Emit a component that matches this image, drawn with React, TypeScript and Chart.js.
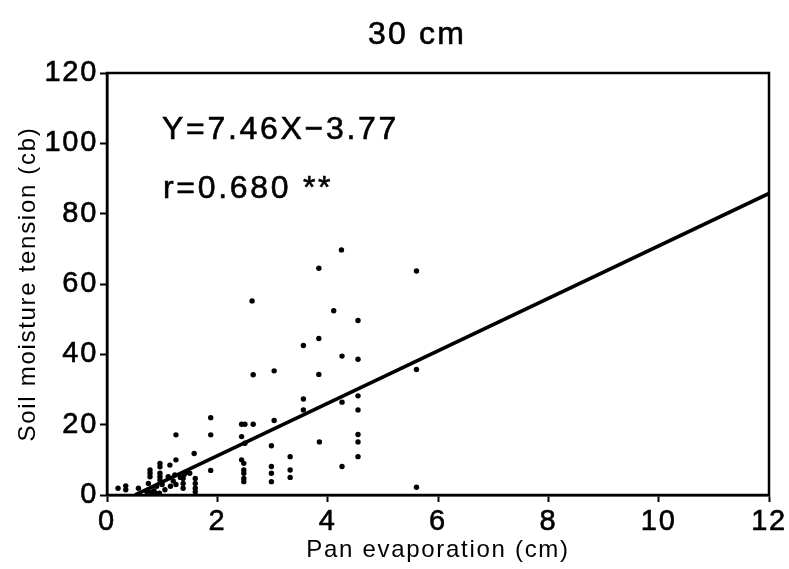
import React, { useEffect, useRef } from "react";
import { Chart, registerables } from "chart.js";

Chart.register(...registerables);

const chartTitle = "30 cm";
const xAxisTitle = "Pan evaporation (cm)";
const yAxisTitle = "Soil moisture tension (cb)";
const equationText = "Y=7.46X\u22123.77";
const corrText = "r=0.680 **";

const xTicks = [0, 2, 4, 6, 8, 10, 12];
const yTicks = [0, 20, 40, 60, 80, 100, 120];

// observed points
const obsX = [
  4.25, 3.84, 5.61, 2.63, 4.11, 4.55, 3.56, 3.84, 4.26, 4.55,
  2.65, 3.03, 3.84, 5.61, 3.56, 3.56, 4.26, 4.55, 4.55, 3.32,
  3.32, 3.32, 3.85, 4.55, 4.55, 4.55, 4.26, 5.61,
  2.44, 2.5, 2.65, 3.03, 2.44, 2.5, 2.98, 2.44, 2.48, 2.48,
  2.48, 2.48, 2.48, 2.98, 2.98, 2.98,
  1.88, 1.25, 1.88, 1.58, 1.25, 0.96, 0.96, 0.78, 0.78, 0.78,
  0.96, 0.96, 0.96, 1.11, 1.23, 1.33, 1.4, 1.45, 1.5, 1.14,
  1.88, 1.38, 1.38, 1.38, 1.6, 1.6, 1.6, 1.6,
  0.2, 0.34, 0.34, 0.57, 0.75, 0.72, 0.8, 0.85, 0.9, 1.0,
  1.05, 1.15, 1.2, 1.25, 0.88, 0.95,
];
const obsY = [
  69.7, 64.5, 63.7, 55.2, 52.4, 49.6, 42.5, 44.5, 39.5, 38.6,
  34.2, 35.3, 34.3, 35.7, 27.3, 24.2, 26.4, 28.2, 24.2, 10.9,
  7.1, 5.0, 15.1, 17.2, 15.1, 10.9, 8.1, 2.2,
  20.1, 20.1, 20.1, 21.2, 16.6, 14.7, 14.0, 10.0, 9.0, 7.1,
  6.2, 4.7, 3.8, 8.1, 6.2, 3.8,
  22.0, 17.1, 17.1, 11.8, 10.0, 9.0, 8.0, 7.1, 6.2, 5.2,
  6.2, 5.2, 4.3, 5.2, 5.7, 5.0, 5.8, 6.5, 6.2, 8.5,
  7.0, 4.7, 3.3, 1.9, 4.7, 3.3, 1.9, 0.9,
  1.9, 2.6, 1.5, 1.9, 3.3, 1.0, 0.8, 1.2, 2.5, 3.0,
  1.5, 2.5, 4.0, 3.0, 0.5, 0.5,
];

// regression line end points (Y = 7.46X - 3.77)
const fitX = [0.51, 12];
const fitY = [0.03, 85.75];

const FONT = "'Liberation Sans', Arial, Helvetica, sans-serif";

export default function App() {
  const ref = useRef<HTMLCanvasElement | null>(null);

  useEffect(() => {
    if (!ref.current) return;
    const textPlugin = {
      id: "frameAndText",
      beforeDraw(chart: any) {
        (chart.ctx as any).letterSpacing = "1.7px";
      },
      afterDraw(chart: any) {
        const { ctx, chartArea } = chart;
        ctx.save();
        ctx.strokeStyle = "#000";
        ctx.lineWidth = 2.5;
        ctx.strokeRect(chartArea.left, chartArea.top, chartArea.right - chartArea.left, chartArea.bottom - chartArea.top);
        ctx.fillStyle = "#000";
        ctx.lineWidth = 0.6;
        ctx.textBaseline = "middle";
        ctx.textAlign = "left";
        ctx.letterSpacing = "2.2px";
        ctx.font = `32px ${FONT}`;
        const tw = ctx.measureText(chartTitle).width;
        ctx.fillText(chartTitle, 417 - tw / 2, 35);
        ctx.strokeText(chartTitle, 417 - tw / 2, 35);
        ctx.letterSpacing = "2.7px";
        ctx.font = `32px ${FONT}`;
        ctx.fillText(equationText, 162, 130);
        ctx.strokeText(equationText, 162, 130);
        ctx.fillText(corrText, 163, 189);
        ctx.strokeText(corrText, 163, 189);
        ctx.restore();
        ctx.letterSpacing = "0px";
      },
    };

    const chart = new Chart(ref.current, {
      type: "scatter",
      data: {
        datasets: [
          {
            data: obsX.map((x, i) => ({ x, y: obsY[i] })),
            backgroundColor: "#000",
            borderWidth: 0,
            pointRadius: 2.7,
          },
          {
            type: "line",
            data: fitX.map((x, i) => ({ x, y: fitY[i] })),
            borderColor: "#000",
            borderWidth: 3.5,
            pointRadius: 0,
            showLine: true,
            fill: false,
          } as any,
        ],
      },
      options: {
        responsive: false,
        animation: false,
        layout: { padding: { top: 73, right: 20, left: 0, bottom: 0 } },
        plugins: { legend: { display: false }, tooltip: { enabled: false }, title: { display: false } },
        scales: {
          x: {
            type: "linear",
            min: 0,
            max: 12,
            afterFit: (s: any) => { s.height = 74; },
            afterBuildTicks: (s: any) => { s.ticks = xTicks.map((v) => ({ value: v })); },
            ticks: { color: "#000", font: { family: FONT, size: 29 }, padding: 3, maxRotation: 0, textStrokeColor: "#000", textStrokeWidth: 0.6 },
            grid: { drawOnChartArea: false, drawTicks: true, tickLength: 7, tickColor: "#000", tickWidth: 2, color: "#000" },
            border: { display: true, color: "#000", width: 2.5 },
            title: { display: true, text: xAxisTitle, color: "#000", font: { family: FONT, size: 24 }, padding: { top: 0, bottom: 4 } },
          },
          y: {
            type: "linear",
            min: 0,
            max: 120,
            afterFit: (s: any) => { s.width = 107; },
            afterBuildTicks: (s: any) => { s.ticks = yTicks.map((v) => ({ value: v })); },
            ticks: { color: "#000", font: { family: FONT, size: 29 }, padding: 2, textStrokeColor: "#000", textStrokeWidth: 0.6 },
            grid: { drawOnChartArea: false, drawTicks: true, tickLength: 7, tickColor: "#000", tickWidth: 2, color: "#000" },
            border: { display: true, color: "#000", width: 2.5 },
            title: { display: true, text: yAxisTitle, color: "#000", font: { family: FONT, size: 24 }, padding: { top: 14, bottom: 0 } },
          },
        },
      },
      plugins: [textPlugin],
    });
    return () => chart.destroy();
  }, []);

  return (
    <div style={{ position: "absolute", left: 0, top: 0, width: 789, height: 569, background: "#fff" }}>
      <canvas ref={ref} width={789} height={569} />
    </div>
  );
}
